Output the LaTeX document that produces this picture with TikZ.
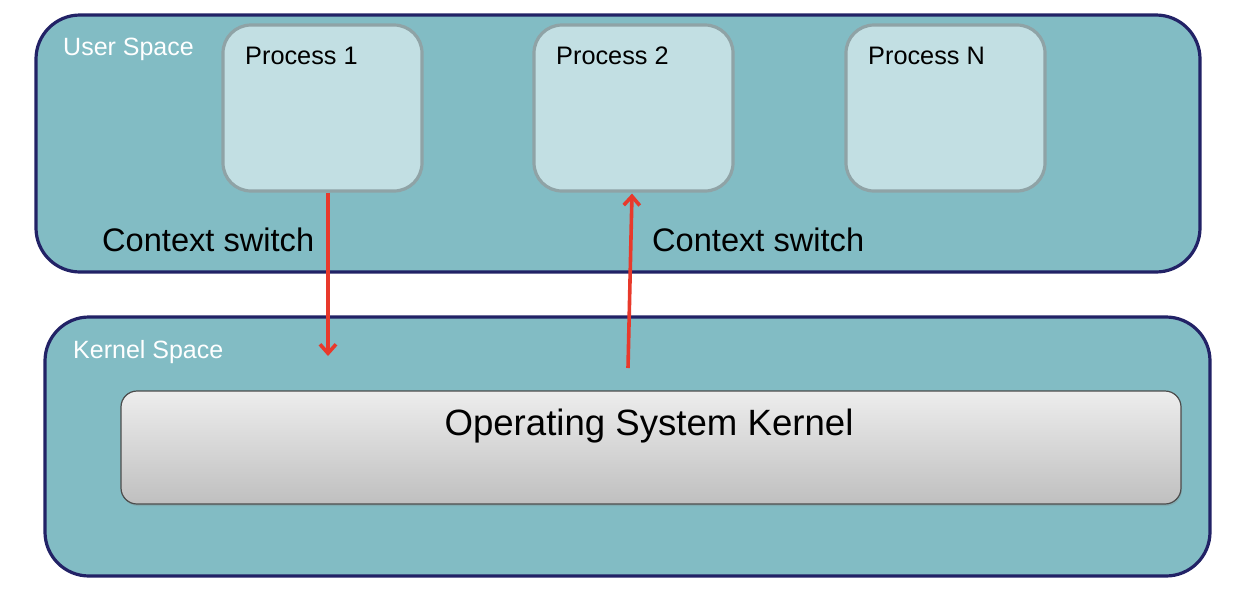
\documentclass[tikz,border=0pt]{standalone}
\usepackage{fontspec}
\setmainfont{Liberation Sans}
\usetikzlibrary{arrows.meta,shadows}
\definecolor{spacefill}{HTML}{82BCC4}
\definecolor{spaceline}{HTML}{222266}
\definecolor{procfill}{HTML}{C2DFE3}
\definecolor{procline}{HTML}{8FA3A6}
\definecolor{arrred}{HTML}{E8392B}
\begin{document}
\begin{tikzpicture}[x=1pt,y=-1pt,
  spacebox/.style={draw=spaceline, fill=spacefill, line width=3.2pt, rounded corners=44pt, inner sep=0pt},
  procbox/.style={draw=procline, fill=procfill, line width=3.2pt, rounded corners=28pt, minimum width=199pt, minimum height=166pt, inner sep=0pt},
  kernbox/.style={draw=black!70, line width=1.2pt, rounded corners=16pt, top color=black!7, bottom color=black!25, minimum width=1060pt, minimum height=113pt, inner sep=0pt, drop shadow={shadow xshift=1pt, shadow yshift=-2pt, opacity=0.25}},
  spacelabel/.style={text=white, font=\fontsize{25}{29}\selectfont, anchor=west, inner sep=0pt},
  proclabel/.style={text=black, font=\fontsize{25.3}{29}\selectfont, anchor=west, inner sep=0pt},
  ctxlabel/.style={text=black, font=\fontsize{32.6}{37}\selectfont, anchor=west, inner sep=0pt},
  arr/.style={draw=arrred, line width=3.6pt, -{Straight Barb[length=9pt,width=16pt]}}
]
\useasboundingbox (0,0) rectangle (1240,590);
% spaces
\node[spacebox, minimum width=1164pt, minimum height=257pt] (user) at (618,143.5) {};
\node[spacebox, minimum width=1165pt, minimum height=259pt] (kspace) at (627.5,446.5) {};
\node[spacelabel] (userlbl) at (63,49) {User Space};
\node[spacelabel] (kspacelbl) at (73,352) {Kernel Space};
% processes
\node[procbox] (p1) at (322.5,108) {};
\node[procbox] (p2) at (633.5,108) {};
\node[procbox] (pn) at (945.5,108) {};
\node[proclabel] (p1lbl) at (245,56) {Process 1};
\node[proclabel] (p2lbl) at (556,56) {Process 2};
\node[proclabel] (pnlbl) at (868,56) {Process N};
% kernel
\node[kernbox] (kern) at (651,447.5) {};
\node[font=\fontsize{36.6}{42}\selectfont, inner sep=0pt] (kernlbl) at (649,426) {Operating System Kernel};
% context switch labels
\node[ctxlabel] (ctx1) at (102,240) {Context switch};
\node[ctxlabel] (ctx2) at (652,240) {Context switch};
% arrows
\coordinate (k1) at (328,356);
\coordinate (k2) at (628,368);
\draw[arr] ([xshift=5.5pt]p1.south) -- (k1);
\draw[arr] (k2) -- ([xshift=-1.5pt,yshift=-1pt]p2.south);
\end{tikzpicture}
\end{document}
